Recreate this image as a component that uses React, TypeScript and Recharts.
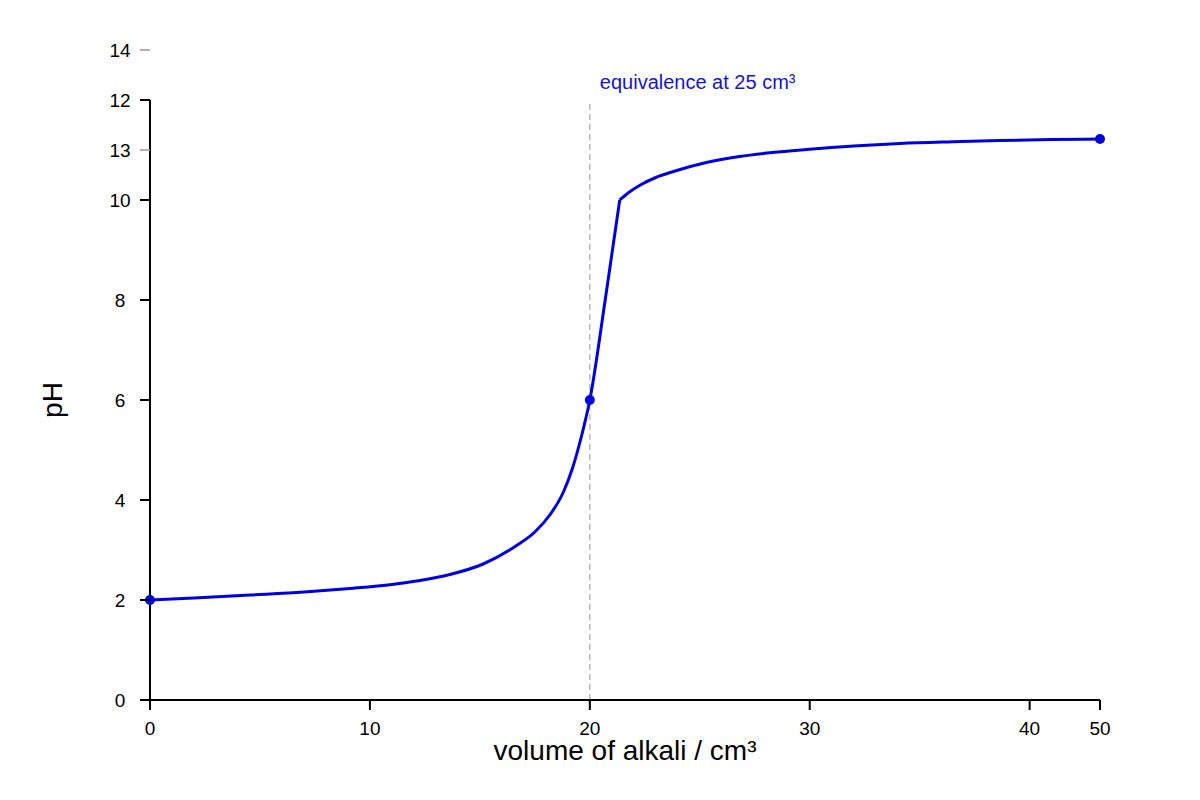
import React from 'react';
import { LineChart, Line, XAxis, YAxis, ReferenceLine, Label } from 'recharts';

// Acid region up to the top of the steep rise
const volumesBefore = [
  0, 2, 4.55, 7, 9.09, 11, 12.12, 13.64, 15.15, 16.67, 17.5, 18.18, 18.79, 19.2, 19.6, 20, 20.7, 21.36,
];
const phBefore = [
  2.0, 2.04, 2.1, 2.16, 2.23, 2.31, 2.38, 2.51, 2.72, 3.09, 3.36, 3.7, 4.15, 4.62, 5.24, 6.0, 8.0, 10.0,
];
// Alkali region after the rise
const volumesAfter = [21.36, 21.8, 22.3, 23, 23.8, 25.3, 26.8, 28.3, 29.85, 32, 34.1, 36.5, 38.6, 41, 43.2];
const phAfter = [10.0, 10.16, 10.3, 10.45, 10.57, 10.75, 10.87, 10.95, 11.01, 11.08, 11.13, 11.165, 11.19, 11.21, 11.22];

const markedVolumes = [0, 20, 43.2];

const xTickValues = [0, 10, 20, 30, 40, 43.2];
const xTickLabels = ['0', '10', '20', '30', '40', '50'];
const yTickValues = [0, 2, 4, 6, 8, 10, 11, 12, 13];
const yTickLabels = ['0', '2', '4', '6', '8', '10', '13', '12', '14'];
const greyYTicks = [11, 13];

const equivalenceVolume = 20;
const equivalenceText = 'equivalence at 25 cm³';
const xTitle = 'volume of alkali / cm³';
const yTitle = 'pH';

const dataBefore = volumesBefore.map((v, i) => ({ v, ph: phBefore[i] }));
const dataAfter = volumesAfter.map((v, i) => ({ v, ph: phAfter[i] }));

const FONT = '"Liberation Sans", Arial, sans-serif';
const BLUE = '#0000dd';

const XTick = (props: any) => {
  const { x, y, payload } = props;
  const i = xTickValues.indexOf(payload.value);
  return (
    <g>
      <line x1={x} x2={x} y1={y} y2={y + 10} stroke="#000" strokeWidth={2} />
      <text x={x} y={y + 35} textAnchor="middle" fontSize={19} fontFamily={FONT} fill="#000">
        {xTickLabels[i]}
      </text>
    </g>
  );
};

const YTick = (props: any) => {
  const { x, y, payload } = props;
  const i = yTickValues.indexOf(payload.value);
  const grey = greyYTicks.includes(payload.value);
  return (
    <g>
      <line
        x1={x - 10}
        x2={x}
        y1={y}
        y2={y}
        stroke={grey ? '#999' : '#000'}
        strokeWidth={grey ? 1.5 : 2}
      />
      <text x={x - 30} y={y + 7} textAnchor="middle" fontSize={19} fontFamily={FONT} fill="#000">
        {yTickLabels[i]}
      </text>
    </g>
  );
};

const renderDot = (props: any) => {
  const { cx, cy, payload, index } = props;
  if (markedVolumes.includes(payload.v)) {
    return <circle key={`d${index}`} cx={cx} cy={cy} r={5} fill={BLUE} stroke="none" />;
  }
  return <g key={`d${index}`} />;
};

const EqLabel = (props: any) => {
  const vb = props.viewBox || {};
  return (
    <text x={vb.x + 10} y={vb.y - 11} fontSize={20} fontFamily={FONT} fill="#1515cc">
      {equivalenceText}
    </text>
  );
};

const XTitle = (props: any) => {
  const vb = props.viewBox || {};
  return (
    <text x={vb.x + vb.width / 2} y={vb.y + 60} textAnchor="middle" fontSize={28} fontFamily={FONT} fill="#000">
      {xTitle}
    </text>
  );
};

const YTitle = (props: any) => {
  const vb = props.viewBox || {};
  const cx = 62;
  const cy = vb.y + vb.height / 2;
  return (
    <text
      x={cx}
      y={cy}
      textAnchor="middle"
      fontSize={28}
      fontFamily={FONT}
      fill="#000"
      transform={`rotate(-90, ${cx}, ${cy})`}
    >
      {yTitle}
    </text>
  );
};

export default function App() {
  return (
    <div style={{ position: 'absolute', left: 0, top: 0, width: 1200, height: 800, background: '#fff' }}>
      <LineChart width={1200} height={800} margin={{ top: 100, right: 100, bottom: 0, left: 0 }}>
        <XAxis
          type="number"
          dataKey="v"
          domain={[0, 43.2]}
          ticks={xTickValues}
          interval={0}
          height={100}
          tickSize={0}
          tickMargin={0}
          tickLine={false}
          tick={<XTick />}
          axisLine={{ stroke: '#000', strokeWidth: 2 }}
          allowDuplicatedCategory={false}
        >
          <Label content={<XTitle />} />
        </XAxis>
        <YAxis
          type="number"
          domain={[0, 12]}
          ticks={yTickValues}
          interval={0}
          width={150}
          tickSize={0}
          tickMargin={0}
          tickLine={false}
          tick={<YTick />}
          axisLine={{ stroke: '#000', strokeWidth: 2 }}
        >
          <Label content={<YTitle />} />
        </YAxis>
        <ReferenceLine
          x={equivalenceVolume}
          stroke="#bbb"
          strokeWidth={1.5}
          strokeDasharray="6 4"
        >
          <Label content={<EqLabel />} />
        </ReferenceLine>
        <Line
          data={dataBefore}
          type="monotone"
          dataKey="ph"
          stroke={BLUE}
          strokeWidth={3}
          dot={renderDot}
          activeDot={false}
          isAnimationActive={false}
        />
        <Line
          data={dataAfter}
          type="monotone"
          dataKey="ph"
          stroke={BLUE}
          strokeWidth={3}
          dot={renderDot}
          activeDot={false}
          isAnimationActive={false}
        />
      </LineChart>
    </div>
  );
}
